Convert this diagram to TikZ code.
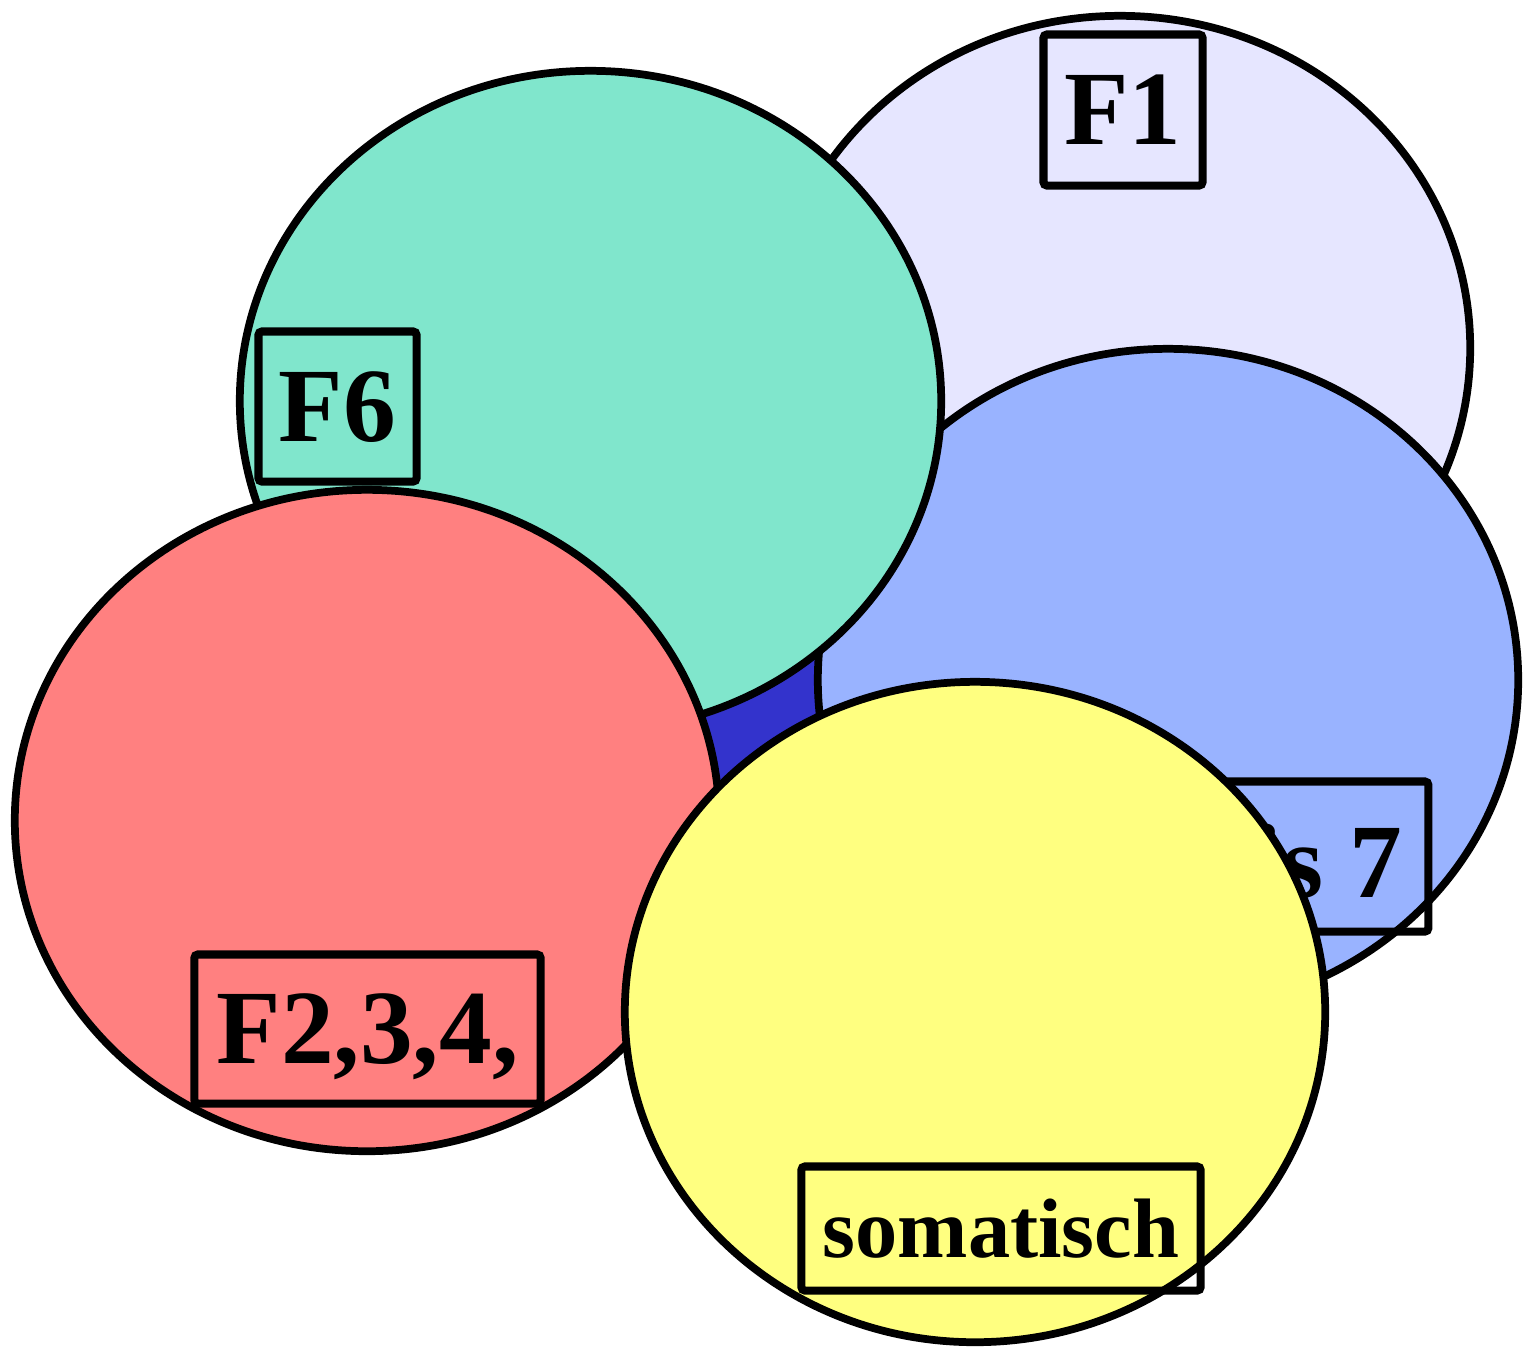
\documentclass[tikz,border=0pt]{standalone}
\usepackage{fontspec}
\setmainfont{Liberation Serif}
\definecolor{lavfill}{HTML}{E6E6FF}
\definecolor{tealfill}{HTML}{80E6CC}
\definecolor{bluefill}{HTML}{99B3FF}
\definecolor{redfill}{HTML}{FF8080}
\definecolor{yellowfill}{HTML}{FFFF80}
\definecolor{deepblue}{HTML}{3333CC}
\begin{document}
\begin{tikzpicture}[x=0.01cm,y=-0.01cm,
  blob/.style={draw=black, line width=2.2pt},
  tag/.style={draw=black, line width=2.3pt, rounded corners=1pt, inner sep=0pt,
    font=\bfseries\fontsize{30}{30}\selectfont, text depth=0pt},
  tagtext/.style={inner sep=0pt, font=\bfseries\fontsize{30}{30}\selectfont},
]
\useasboundingbox (0,0) rectangle (1525,1347);

% F1 set
\draw[blob, fill=lavfill] (1120,348) ellipse [x radius=3.50cm, y radius=3.32cm];
\node[tag, minimum width=1.59cm, minimum height=1.51cm] (f1) at (1123,110) {F1};

% small dark patch in the middle
\draw[blob, fill=deepblue] (765,715) ellipse [x radius=0.95cm, y radius=0.80cm];

% F? bis 7 set
\draw[blob, fill=bluefill] (1168,680) ellipse [x radius=3.50cm, y radius=3.31cm];
\node[tag, minimum width=3.285cm, minimum height=1.50cm] (f7) at (1264,856.5) {};
\node[tagtext, anchor=base east] (f7txt) at (1403,897) {bis 7};

% F6 set
\draw[blob, fill=tealfill] (590.5,401) ellipse [x radius=3.505cm, y radius=3.30cm];
\node[tag, minimum width=1.58cm, minimum height=1.50cm] (f6) at (337.5,406.5) {F6};

% F2,3,4 set
\draw[blob, fill=redfill] (367,820.5) ellipse [x radius=3.52cm, y radius=3.305cm];
\node[tag, minimum width=3.46cm, minimum height=1.49cm] (f234) at (367.5,1029) {F2,3,4,};

% somatic set
\draw[blob, fill=yellowfill] (975,1012) ellipse [x radius=3.50cm, y radius=3.30cm];
\node[tag, font=\bfseries\fontsize{24}{24}\selectfont,
      minimum width=3.99cm, minimum height=1.24cm] (som) at (1001,1228.5) {somatisch};
\end{tikzpicture}
\end{document}
